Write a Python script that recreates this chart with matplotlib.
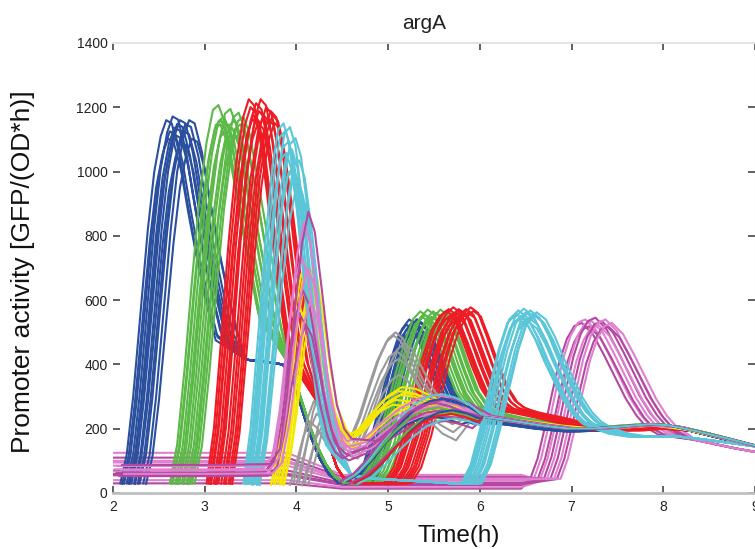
import matplotlib
matplotlib.use("Agg")
import matplotlib.pyplot as plt

plt.rcParams['font.family'] = ['Liberation Sans', 'DejaVu Sans']

# ---------------- data ----------------
# Each group: template keypoints (t, y) of one exemplar curve, a phase label per keypoint
# (1 = first wave, 2 = second wave, 3 = tail following the second wave, 0 = shared),
# and per-curve shifts (h) / scales for the waves.

# Blue
blue_t = [2.08, 2.15, 2.22, 2.30, 2.38, 2.45, 2.52, 2.58, 2.64, 2.72, 2.80, 2.90, 3.00, 3.10,
          3.45, 3.65, 3.85, 3.95, 4.05, 4.15, 4.25, 4.35, 4.45, 4.55,
          4.62, 4.72, 4.82, 4.92, 5.02, 5.12, 5.20, 5.28, 5.38, 5.48, 5.58, 5.70, 5.85,
          6.05, 6.30, 6.60, 6.90, 7.20, 7.50, 7.80,
          8.30, 8.60, 9.00]
blue_y = [30, 120, 300, 560, 820, 1000, 1110, 1160, 1150, 1060, 920, 760, 620, 500,
          415, 408, 400, 360, 270, 180, 110, 60, 35, 30,
          30, 80, 180, 300, 420, 510, 540, 522, 455, 375, 305, 258, 232,
          220, 212, 200, 192, 195, 203, 210,
          193, 172, 146]
blue_ph = [1] * 14 + [0] * 10 + [2] * 13 + [3] * 7 + [0] * 3
blue_d1 = [0.00, 0.02, 0.04, 0.07, 0.09, 0.10, 0.12, 0.15, 0.16, 0.19, 0.21, 0.25, 0.28]
blue_a1 = [1.00, 0.95, 0.97, 1.01, 0.98, 0.96, 0.99, 1.00, 0.94, 0.97, 0.99, 1.00, 0.95]
blue_d2 = [0.00, 0.03, 0.05, 0.02, 0.07, 0.09, 0.12, 0.07, 0.15, 0.13, 0.18, 0.11, 0.20]
blue_a2 = [0.97, 1.00, 0.94, 0.95, 0.99, 0.97, 1.00, 0.93, 0.98, 0.95, 0.96, 1.00, 0.92]

# Green
green_t = [2.62, 2.70, 2.78, 2.86, 2.94, 3.02, 3.09, 3.15, 3.22, 3.30, 3.40, 3.50, 3.58,
           3.92, 4.02, 4.12, 4.22, 4.32, 4.42, 4.52, 4.60,
           4.65, 4.77, 4.88, 4.98, 5.08, 5.18, 5.27, 5.35, 5.43, 5.53, 5.63, 5.73, 5.85,
           6.00, 6.20, 6.50, 6.80, 7.10, 7.40, 7.70,
           8.20, 8.50, 8.80, 9.00]
green_y = [30, 150, 380, 650, 900, 1080, 1180, 1195, 1140, 1010, 840, 680, 560,
           400, 320, 230, 150, 90, 50, 32, 30,
           30, 70, 150, 260, 370, 470, 540, 565, 548, 480, 395, 320, 270,
           245, 232, 220, 208, 203, 207, 213,
           205, 185, 163, 148]
green_ph = [1] * 13 + [0] * 8 + [2] * 13 + [3] * 7 + [0] * 4
green_d1 = [0.00, 0.02, 0.03, 0.06, 0.08, 0.10, 0.13, 0.15, 0.18, 0.20, 0.22, 0.24, 0.27]
green_a1 = [1.01, 0.96, 0.97, 0.98, 0.94, 0.96, 1.00, 0.95, 0.97, 0.93, 0.99, 0.96, 0.98]
green_d2 = [0.00, 0.02, 0.05, 0.08, 0.10, 0.12, 0.14, 0.18, 0.21, 0.22, 0.25, 0.26, 0.30]
green_a2 = [1.00, 0.97, 0.98, 1.01, 0.95, 0.97, 1.00, 0.99, 0.96, 1.01, 0.97, 0.98, 1.00]

# Red
red_t = [3.02, 3.10, 3.18, 3.26, 3.34, 3.42, 3.48, 3.54, 3.60, 3.68, 3.76, 3.84, 3.92,
         4.28, 4.36, 4.44, 4.52, 4.62, 4.75, 4.85,
         4.95, 5.06, 5.17, 5.27, 5.37, 5.47, 5.56, 5.63, 5.71, 5.81, 5.91, 6.01, 6.11, 6.20,
         6.35, 6.60, 6.90, 7.20, 7.50, 7.80,
         8.30, 8.60, 9.00]
red_y = [30, 200, 480, 780, 1020, 1170, 1225, 1205, 1110, 930, 730, 560, 420,
         260, 150, 80, 45, 32, 30, 30,
         30, 80, 180, 300, 420, 510, 555, 572, 555, 480, 400, 330, 285, 265,
         250, 235, 215, 198, 195, 203,
         195, 174, 147]
red_ph = [1] * 13 + [0] * 7 + [2] * 14 + [3] * 6 + [0] * 3
red_d1 = [0.00, 0.02, 0.04, 0.05, 0.08, 0.10, 0.11, 0.13, 0.16, 0.19, 0.21, 0.24, 0.26, 0.28]
red_a1 = [1.00, 0.98, 0.95, 0.96, 0.99, 0.94, 0.97, 1.00, 0.96, 0.98, 0.95, 0.97, 0.96, 0.94]
red_d2 = [0.00, 0.03, 0.04, 0.06, 0.08, 0.11, 0.13, 0.14, 0.16, 0.19, 0.22, 0.24, 0.27, 0.30]
red_a2 = [0.99, 1.00, 0.96, 0.97, 1.01, 0.98, 0.95, 1.00, 0.99, 0.97, 1.00, 0.98, 1.01, 0.99]

# Cyan
cyan_t = [3.42, 3.50, 3.58, 3.66, 3.74, 3.80, 3.86, 3.92, 4.00, 4.08, 4.16, 4.24, 4.32,
          4.60, 4.80, 5.00, 5.25, 5.50, 5.70,
          5.80, 5.90, 6.00, 6.10, 6.20, 6.30, 6.40, 6.50, 6.60, 6.70, 6.80, 6.90, 7.00, 7.10,
          7.20, 7.40, 7.60, 7.80,
          8.15, 8.40, 8.70, 9.00]
cyan_y = [30, 200, 480, 780, 1020, 1130, 1150, 1090, 900, 660, 430, 250, 150,
          55, 46, 42, 38, 34, 30,
          30, 90, 200, 330, 450, 540, 568, 545, 490, 420, 360, 300, 255, 225,
          205, 185, 176, 175,
          176, 168, 157, 145]
cyan_ph = [1] * 13 + [0] * 6 + [2] * 14 + [3] * 4 + [0] * 4
cyan_d1 = [0.00, 0.02, 0.03, 0.05, 0.07, 0.09, 0.10, 0.11, 0.13, 0.15, 0.17, 0.18]
cyan_a1 = [1.00, 0.98, 0.92, 0.95, 0.99, 0.93, 0.87, 0.88, 0.96, 0.85, 0.90, 0.82]
cyan_d2 = [0.00, 0.02, 0.03, 0.05, 0.08, 0.10, 0.12, 0.13, 0.15, 0.18, 0.20, 0.22]
cyan_a2 = [0.98, 1.00, 0.95, 0.97, 1.01, 0.99, 0.94, 0.96, 1.00, 0.98, 0.97, 0.99]

# Magenta, late responders (flat low, peak near 7.3 h)
magb_t = [2.00, 3.00, 3.90, 4.50, 5.50, 6.45,
          6.55, 6.63, 6.71, 6.79, 6.87, 6.95, 7.03, 7.11, 7.23, 7.35, 7.47, 7.59, 7.71, 7.83, 7.95,
          8.35, 8.60, 8.80, 9.00]
magb_y = [100, 100, 100, 45, 45, 45,
          45, 110, 210, 320, 420, 490, 530, 540, 505, 440, 370, 300, 245, 205, 185,
          165, 150, 138, 128]
magb_ph = [1] * 6 + [2] * 15 + [0] * 4
magb_d1 = [0.00, 0.00, 0.00, 0.00, 0.00, 0.00, 0.00, 0.00, 0.00, 0.00]
magb_a1 = [0.30, 1.25, 0.55, 0.85, 1.10, 0.40, 0.70, 1.00, 0.60, 0.95]
magb_d2 = [0.00, 0.04, 0.08, 0.11, 0.15, 0.18, 0.22, 0.26, 0.29, 0.33]
magb_a2 = [0.98, 1.00, 0.96, 0.99, 1.01, 0.97, 0.99, 1.00, 0.96, 0.98]

# Magenta, early responders (peak near 4.05 h, low second hump)
maga_t = [2.00, 3.00, 3.62, 3.72, 3.80, 3.88, 3.96, 4.03, 4.10, 4.18, 4.26, 4.34, 4.42, 4.50,
          4.70, 4.90, 5.10, 5.30, 5.50, 5.70,
          5.95, 6.25, 6.55, 6.85, 7.15, 7.45, 7.75,
          8.20, 8.50, 8.80, 9.00]
maga_y = [70, 70, 72, 110, 250, 450, 620, 700, 650, 500, 340, 220, 160, 135,
          150, 195, 235, 262, 272, 260,
          240, 226, 213, 202, 200, 205, 212,
          205, 182, 160, 146]
maga_ph = [1] * 14 + [2] * 6 + [3] * 7 + [0] * 4
maga_d1 = [0.00, 0.02, 0.04, 0.05, 0.07, 0.09, 0.10, 0.12]
maga_a1 = [0.80, 1.05, 0.90, 1.20, 0.75, 1.00, 1.25, 0.85]
maga_d2 = [0.00, 0.05, 0.10, 0.03, 0.14, 0.08, 0.18, 0.12]
maga_a2 = [0.90, 1.05, 0.95, 1.12, 0.88, 1.00, 1.08, 0.93]

# Yellow
yel_t = [3.72, 3.80, 3.88, 3.95, 4.02, 4.08, 4.15, 4.22, 4.30, 4.40, 4.48,
         4.60, 4.75, 4.90, 5.05, 5.20, 5.35, 5.50, 5.65,
         5.85, 6.10, 6.40, 6.70, 7.00, 7.30, 7.60, 7.85,
         8.25, 8.55, 8.80, 9.00]
yel_y = [30, 150, 350, 560, 680, 650, 520, 380, 260, 190, 170,
         185, 235, 280, 305, 300, 282, 262, 248,
         240, 232, 222, 210, 202, 202, 208, 212,
         198, 178, 160, 148]
yel_ph = [1] * 11 + [2] * 8 + [3] * 8 + [0] * 4
yel_d1 = [0.00, 0.03, 0.05, 0.08, 0.10, 0.12, 0.14, 0.15]
yel_a1 = [0.85, 1.00, 0.92, 1.06, 0.88, 0.97, 0.82, 1.02]
yel_d2 = [0.00, 0.06, 0.03, 0.10, 0.14, 0.08, 0.18, 0.12]
yel_a2 = [0.90, 1.04, 0.95, 1.08, 0.86, 1.00, 0.93, 1.02]

# Gray
gray_t = [3.93, 4.00, 4.08, 4.15, 4.22, 4.30, 4.40, 4.48,
          4.58, 4.68, 4.78, 4.88, 4.98, 5.06, 5.14, 5.24, 5.36, 5.50, 5.65,
          5.85, 6.10, 6.40, 6.70, 7.00, 7.30, 7.60, 7.85,
          8.25, 8.55, 8.80, 9.00]
gray_y = [30, 110, 210, 260, 240, 195, 155, 140,
          165, 235, 325, 410, 470, 490, 472, 415, 345, 285, 252,
          238, 230, 220, 208, 200, 200, 206, 211,
          197, 177, 160, 148]
gray_ph = [1] * 8 + [2] * 11 + [3] * 8 + [0] * 4
gray_d1 = [0.00, 0.04, 0.07, 0.10, 0.13, 0.16, 0.20]
gray_a1 = [0.85, 1.10, 0.95, 1.20, 0.80, 1.00, 0.90]
gray_d2 = [0.00, 0.03, 0.06, 0.02, 0.09, 0.05, 0.12]
gray_a2 = [1.00, 0.90, 0.75, 1.02, 0.65, 0.85, 0.95]

# Low second humps, mixed colours
hump_t = [4.45, 4.60, 4.75, 4.90, 5.05, 5.20, 5.35, 5.50, 5.65, 5.80,
          6.05, 6.35, 6.65, 6.95, 7.25, 7.55, 7.85, 8.05, 8.35, 8.65, 9.00]
hump_y = [35, 60, 105, 160, 210, 250, 272, 280, 270, 252,
          236, 225, 211, 201, 201, 207, 214, 211, 193, 173, 148]
hump_ph = [1] * 10 + [0] * 11
hump_col = ['blue', 'blue', 'green', 'green', 'cyan', 'magenta', 'magenta', 'blue', 'red', 'cyan']
hump_d1 = [0.00, 0.10, 0.05, 0.15, 0.08, 0.02, 0.12, 0.20, 0.18, 0.22]
hump_a1 = [0.85, 1.05, 0.95, 0.90, 1.10, 1.00, 0.80, 0.92, 0.88, 0.83]

COLORS = {'blue': '#2a4f9e', 'green': '#5bb947', 'red': '#ed1c24', 'cyan': '#5cc6d9',
          'magenta': '#b4479f', 'pink': '#e07fd0', 'yellow': '#f5e800', 'gray': '#9a9a9a'}

# ---------------- plotting ----------------
fig = plt.figure(figsize=(7.55, 5.49), dpi=100)
ax = fig.add_axes([113 / 755, 56 / 549, 642 / 755, 450 / 549])

LW = 1.5


def draw(t, y, ph, d1, a1, d2, a2, colors):
    for k in range(len(d1)):
        tt, yy = [], []
        for ti, yi, p in zip(t, y, ph):
            if p == 1:
                tt.append(ti + d1[k]); yy.append(yi * a1[k])
            elif p == 2:
                tt.append(ti + d2[k]); yy.append(yi * a2[k])
            elif p == 3:
                tt.append(ti + d2[k]); yy.append(yi)
            else:
                tt.append(ti); yy.append(yi)
        ax.plot(tt, yy, color=colors[k % len(colors)], lw=LW, solid_joinstyle='round')


draw(magb_t, magb_y, magb_ph, magb_d1, magb_a1, magb_d2, magb_a2,
     [COLORS['magenta'], COLORS['pink']])
draw(blue_t, blue_y, blue_ph, blue_d1, blue_a1, blue_d2, blue_a2, [COLORS['blue']])
draw(green_t, green_y, green_ph, green_d1, green_a1, green_d2, green_a2, [COLORS['green']])
draw(red_t, red_y, red_ph, red_d1, red_a1, red_d2, red_a2, [COLORS['red']])
draw(gray_t, gray_y, gray_ph, gray_d1, gray_a1, gray_d2, gray_a2, [COLORS['gray']])
draw(yel_t, yel_y, yel_ph, yel_d1, yel_a1, yel_d2, yel_a2, [COLORS['yellow']])
draw(cyan_t, cyan_y, cyan_ph, cyan_d1, cyan_a1, cyan_d2, cyan_a2, [COLORS['cyan']])
draw(maga_t, maga_y, maga_ph, maga_d1, maga_a1, maga_d2, maga_a2,
     [COLORS['magenta'], COLORS['pink']])
for k, c in enumerate(hump_col):
    draw(hump_t, hump_y, hump_ph, [hump_d1[k]], [hump_a1[k]], [0.0], [1.0], [COLORS[c]])

ax.set_xlim(2, 9)
ax.set_ylim(0, 1400)
ax.set_xticks(range(2, 10))
ax.set_yticks(range(0, 1401, 200))
ax.tick_params(direction='in', length=5, width=1.2, color='#444444', labelcolor='#222222',
               labelsize=10, top=True, right=True)
ax.tick_params(axis='y', pad=4)
ax.tick_params(axis='x', pad=5)
for lab in ax.get_xticklabels() + ax.get_yticklabels():
    lab.set_fontfamily(['Liberation Sans', 'DejaVu Sans'])

ax.spines['left'].set_visible(False)
ax.spines['bottom'].set_color('#c0c0c0')
ax.spines['bottom'].set_linewidth(2)
ax.spines['top'].set_color('#e4e4e4')
ax.spines['top'].set_linewidth(1.5)
ax.spines['right'].set_color('#e4e4e4')

fig.text(424 / 755, 1 - 29 / 549, 'argA', ha='center', va='baseline', fontsize=15, color='#222222')
fig.text(459 / 755, 1 - 542 / 549, 'Time(h)', ha='center', va='baseline', fontsize=17.5,
         color='#111111')
fig.text(23 / 755, 1 - 272 / 549, 'Promoter activity [GFP/(OD*h)]', rotation=90,
         ha='center', va='center', fontsize=19, color='#111111')

fig.savefig('out.png', dpi=100)
